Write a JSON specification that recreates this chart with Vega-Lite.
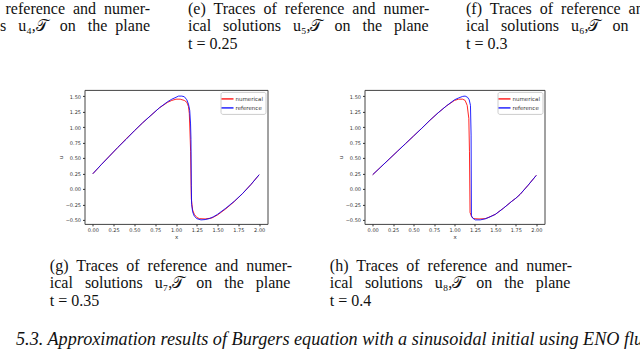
{
  "$schema": "https://vega.github.io/schema/vega-lite/v6.json",
  "padding": 0,
  "background": "white",
  "spacing": 36.9,
  "title": {"text": "5.3. Approximation results of Burgers equation with a sinusoidal initial using ENO flux", "orient": "bottom", "anchor": "start", "frame": "bounds", "fontStyle": "italic", "fontSize": 18.2, "offset": 22.1, "dx": 16},
  "datasets": {
    "t035": [
      {"series": "numerical", "x": 0.0, "u": 0.245},
      {"series": "numerical", "x": 0.1, "u": 0.39},
      {"series": "numerical", "x": 0.2, "u": 0.53},
      {"series": "numerical", "x": 0.3, "u": 0.67},
      {"series": "numerical", "x": 0.4, "u": 0.81},
      {"series": "numerical", "x": 0.5, "u": 0.94},
      {"series": "numerical", "x": 0.6, "u": 1.07},
      {"series": "numerical", "x": 0.7, "u": 1.19},
      {"series": "numerical", "x": 0.8, "u": 1.31},
      {"series": "numerical", "x": 0.9, "u": 1.4},
      {"series": "numerical", "x": 0.95, "u": 1.43},
      {"series": "numerical", "x": 1.0, "u": 1.45},
      {"series": "numerical", "x": 1.05, "u": 1.45},
      {"series": "numerical", "x": 1.1, "u": 1.43},
      {"series": "numerical", "x": 1.13, "u": 1.4},
      {"series": "numerical", "x": 1.15, "u": 1.33},
      {"series": "numerical", "x": 1.16, "u": 1.22},
      {"series": "numerical", "x": 1.168, "u": 0.92},
      {"series": "numerical", "x": 1.176, "u": 0.6},
      {"series": "numerical", "x": 1.184, "u": -0.16},
      {"series": "numerical", "x": 1.2, "u": -0.34},
      {"series": "numerical", "x": 1.22, "u": -0.41},
      {"series": "numerical", "x": 1.25, "u": -0.46},
      {"series": "numerical", "x": 1.28, "u": -0.48},
      {"series": "numerical", "x": 1.35, "u": -0.485},
      {"series": "numerical", "x": 1.43, "u": -0.47},
      {"series": "numerical", "x": 1.5, "u": -0.42},
      {"series": "numerical", "x": 1.6, "u": -0.32},
      {"series": "numerical", "x": 1.7, "u": -0.205},
      {"series": "numerical", "x": 1.8, "u": -0.075},
      {"series": "numerical", "x": 1.9, "u": 0.07},
      {"series": "numerical", "x": 2.0, "u": 0.23},
      {"series": "reference", "x": 0.0, "u": 0.245},
      {"series": "reference", "x": 0.1, "u": 0.39},
      {"series": "reference", "x": 0.2, "u": 0.53},
      {"series": "reference", "x": 0.3, "u": 0.67},
      {"series": "reference", "x": 0.4, "u": 0.8},
      {"series": "reference", "x": 0.5, "u": 0.94},
      {"series": "reference", "x": 0.6, "u": 1.07},
      {"series": "reference", "x": 0.7, "u": 1.19},
      {"series": "reference", "x": 0.8, "u": 1.31},
      {"series": "reference", "x": 0.9, "u": 1.41},
      {"series": "reference", "x": 0.95, "u": 1.45},
      {"series": "reference", "x": 1.0, "u": 1.48},
      {"series": "reference", "x": 1.03, "u": 1.5},
      {"series": "reference", "x": 1.07, "u": 1.5},
      {"series": "reference", "x": 1.1, "u": 1.49},
      {"series": "reference", "x": 1.13, "u": 1.44},
      {"series": "reference", "x": 1.15, "u": 1.37},
      {"series": "reference", "x": 1.165, "u": 1.27},
      {"series": "reference", "x": 1.175, "u": 1.05},
      {"series": "reference", "x": 1.18, "u": 0.8},
      {"series": "reference", "x": 1.184, "u": 0.05},
      {"series": "reference", "x": 1.188, "u": -0.25},
      {"series": "reference", "x": 1.2, "u": -0.37},
      {"series": "reference", "x": 1.22, "u": -0.44},
      {"series": "reference", "x": 1.25, "u": -0.48},
      {"series": "reference", "x": 1.3, "u": -0.5},
      {"series": "reference", "x": 1.35, "u": -0.495},
      {"series": "reference", "x": 1.4, "u": -0.48},
      {"series": "reference", "x": 1.45, "u": -0.45},
      {"series": "reference", "x": 1.5, "u": -0.41},
      {"series": "reference", "x": 1.6, "u": -0.31},
      {"series": "reference", "x": 1.7, "u": -0.2},
      {"series": "reference", "x": 1.8, "u": -0.075},
      {"series": "reference", "x": 1.9, "u": 0.07},
      {"series": "reference", "x": 2.0, "u": 0.23}
    ],
    "t040": [
      {"series": "numerical", "x": 0.0, "u": 0.23},
      {"series": "numerical", "x": 0.1, "u": 0.355},
      {"series": "numerical", "x": 0.2, "u": 0.48},
      {"series": "numerical", "x": 0.3, "u": 0.605},
      {"series": "numerical", "x": 0.4, "u": 0.73},
      {"series": "numerical", "x": 0.5, "u": 0.855},
      {"series": "numerical", "x": 0.6, "u": 0.98},
      {"series": "numerical", "x": 0.7, "u": 1.11},
      {"series": "numerical", "x": 0.8, "u": 1.23},
      {"series": "numerical", "x": 0.9, "u": 1.34},
      {"series": "numerical", "x": 1.0, "u": 1.43},
      {"series": "numerical", "x": 1.05, "u": 1.45},
      {"series": "numerical", "x": 1.1, "u": 1.45},
      {"series": "numerical", "x": 1.13, "u": 1.43},
      {"series": "numerical", "x": 1.155, "u": 1.35},
      {"series": "numerical", "x": 1.175, "u": 1.14},
      {"series": "numerical", "x": 1.183, "u": 0.6},
      {"series": "numerical", "x": 1.19, "u": -0.38},
      {"series": "numerical", "x": 1.21, "u": -0.45},
      {"series": "numerical", "x": 1.235, "u": -0.48},
      {"series": "numerical", "x": 1.3, "u": -0.485},
      {"series": "numerical", "x": 1.38, "u": -0.48},
      {"series": "numerical", "x": 1.45, "u": -0.44},
      {"series": "numerical", "x": 1.5, "u": -0.41},
      {"series": "numerical", "x": 1.6, "u": -0.31},
      {"series": "numerical", "x": 1.7, "u": -0.2},
      {"series": "numerical", "x": 1.75, "u": -0.15},
      {"series": "numerical", "x": 1.8, "u": -0.09},
      {"series": "numerical", "x": 1.9, "u": 0.06},
      {"series": "numerical", "x": 2.0, "u": 0.22},
      {"series": "reference", "x": 0.0, "u": 0.23},
      {"series": "reference", "x": 0.1, "u": 0.355},
      {"series": "reference", "x": 0.2, "u": 0.48},
      {"series": "reference", "x": 0.3, "u": 0.605},
      {"series": "reference", "x": 0.4, "u": 0.73},
      {"series": "reference", "x": 0.5, "u": 0.855},
      {"series": "reference", "x": 0.6, "u": 0.98},
      {"series": "reference", "x": 0.7, "u": 1.11},
      {"series": "reference", "x": 0.8, "u": 1.23},
      {"series": "reference", "x": 0.9, "u": 1.34},
      {"series": "reference", "x": 1.0, "u": 1.44},
      {"series": "reference", "x": 1.05, "u": 1.47},
      {"series": "reference", "x": 1.1, "u": 1.495},
      {"series": "reference", "x": 1.13, "u": 1.5},
      {"series": "reference", "x": 1.16, "u": 1.48},
      {"series": "reference", "x": 1.18, "u": 1.44},
      {"series": "reference", "x": 1.195, "u": 1.35},
      {"series": "reference", "x": 1.203, "u": 0.87},
      {"series": "reference", "x": 1.207, "u": -0.43},
      {"series": "reference", "x": 1.22, "u": -0.47},
      {"series": "reference", "x": 1.255, "u": -0.5},
      {"series": "reference", "x": 1.315, "u": -0.5},
      {"series": "reference", "x": 1.37, "u": -0.485},
      {"series": "reference", "x": 1.42, "u": -0.46},
      {"series": "reference", "x": 1.5, "u": -0.41},
      {"series": "reference", "x": 1.6, "u": -0.31},
      {"series": "reference", "x": 1.7, "u": -0.2},
      {"series": "reference", "x": 1.75, "u": -0.15},
      {"series": "reference", "x": 1.8, "u": -0.09},
      {"series": "reference", "x": 1.9, "u": 0.06},
      {"series": "reference", "x": 2.0, "u": 0.22}
    ]
  },
  "config": {
    "view": {"stroke": null},
    "font": "Liberation Serif",
    "title": {
      "font": "Liberation Serif",
      "fontSize": 16,
      "fontWeight": "normal",
      "color": "#111111",
      "lineHeight": 17.5,
      "orient": "bottom",
      "anchor": "start",
      "frame": "group",
      "baseline": "top"
    },
    "axis": {
      "labelFont": "DejaVu Sans",
      "labelFontSize": 5,
      "labelColor": "#333333",
      "tickSize": 2,
      "tickColor": "#333333",
      "domain": false,
      "grid": false,
      "titleFont": "DejaVu Sans",
      "titleFontSize": 5.5,
      "titleFontWeight": "normal",
      "titleColor": "#333333",
      "labelPadding": 2,
      "titlePadding": 2
    },
    "legend": {
      "orient": "top-right",
      "offset": 2,
      "labelFont": "DejaVu Sans",
      "labelFontSize": 5.5,
      "labelColor": "#333333",
      "labelOffset": 3,
      "symbolType": "M-1.5,0H1.5",
      "symbolStrokeWidth": 1.5,
      "symbolSize": 64,
      "strokeColor": "#cccccc",
      "fillColor": "white",
      "padding": 2,
      "rowPadding": 0,
      "cornerRadius": 2
    }
  },
  "vconcat": [
    {
      "bounds": "flush",
      "spacing": 38,
      "hconcat": [
        {
          "width": 145,
          "height": 1,
          "data": {"values": [{}]},
          "mark": {"type": "text", "text": "", "fontSize": 0, "baseline": "top", "y": 0},
          "encoding": {},
          "title": {"text": ["reference\u00a0 and\u00a0 numer-", "s\u00a0\u00a0 u₄,𝒯\u00a0\u00a0 on\u00a0\u00a0 the\u00a0 plane"], "anchor": "end", "offset": -1.5}
        },
        {
          "width": 240,
          "height": 1,
          "data": {"values": [{}]},
          "mark": {"type": "text", "text": "", "fontSize": 0, "baseline": "top", "y": 0},
          "encoding": {},
          "title": {"text": ["(e)\u00a0 Traces\u00a0 of\u00a0 reference\u00a0 and\u00a0 numer-", "ical\u00a0\u00a0 solutions\u00a0\u00a0 u₅,𝒯\u00a0\u00a0 on\u00a0\u00a0 the\u00a0\u00a0 plane", "t = 0.25"], "offset": -1.5}
        },
        {
          "width": 180,
          "height": 1,
          "data": {"values": [{}]},
          "mark": {"type": "text", "text": "", "fontSize": 0, "baseline": "top", "y": 0},
          "encoding": {},
          "title": {"text": ["(f)\u00a0 Traces\u00a0 of\u00a0 reference\u00a0 and\u00a0 numer-", "ical\u00a0\u00a0 solutions\u00a0\u00a0 u₆,𝒯\u00a0\u00a0 on\u00a0\u00a0 the\u00a0\u00a0 plane", "t = 0.3"], "offset": -1.5}
        }
      ]
    },
    {
      "spacing": 42.5,
      "hconcat": [
        {
          "width": 1,
          "height": 134,
          "data": {"values": [{}]},
          "mark": {"type": "text", "text": "", "fontSize": 0, "baseline": "top", "y": 0},
          "encoding": {}
        },
        {
          "bounds": "flush",
          "spacing": 97,
          "resolve": {"legend": {"color": "independent"}},
          "hconcat": [
            {
              "width": 183,
              "height": 134,
              "view": {"stroke": "#444444", "strokeWidth": 1},
              "data": {"name": "t035"},
              "mark": {"type": "line", "strokeWidth": 1, "opacity": 0.85},
              "encoding": {
                "x": {"field": "x", "type": "quantitative", "scale": {"domain": [-0.1, 2.1], "nice": false, "zero": false}, "axis": {"values": [0, 0.25, 0.5, 0.75, 1, 1.25, 1.5, 1.75, 2], "format": ".2f", "title": "x"}},
                "y": {"field": "u", "type": "quantitative", "scale": {"domain": [-0.565, 1.6], "nice": false, "zero": false}, "axis": {"values": [-0.5, -0.25, 0, 0.25, 0.5, 0.75, 1, 1.25, 1.5], "format": ".2f", "title": "u"}},
                "color": {"field": "series", "type": "nominal", "scale": {"domain": ["numerical", "reference"], "range": ["#ff0000", "#0000ff"]}, "legend": {"title": null}}
              },
              "title": {"text": ["(g)\u00a0 Traces\u00a0 of\u00a0 reference\u00a0 and\u00a0 numer-", "ical\u00a0\u00a0 solutions\u00a0\u00a0 u₇,𝒯\u00a0\u00a0 on\u00a0\u00a0 the\u00a0\u00a0 plane", "t = 0.35"], "offset": 17.3, "dx": -34.7}
            },
            {
              "width": 180,
              "height": 134,
              "view": {"stroke": "#444444", "strokeWidth": 1},
              "data": {"name": "t040"},
              "mark": {"type": "line", "strokeWidth": 1, "opacity": 0.85},
              "encoding": {
                "x": {"field": "x", "type": "quantitative", "scale": {"domain": [-0.1, 2.1], "nice": false, "zero": false}, "axis": {"values": [0, 0.25, 0.5, 0.75, 1, 1.25, 1.5, 1.75, 2], "format": ".2f", "title": "x"}},
                "y": {"field": "u", "type": "quantitative", "scale": {"domain": [-0.565, 1.6], "nice": false, "zero": false}, "axis": {"values": [-0.5, -0.25, 0, 0.25, 0.5, 0.75, 1, 1.25, 1.5], "format": ".2f", "title": "u"}},
                "color": {"field": "series", "type": "nominal", "scale": {"domain": ["numerical", "reference"], "range": ["#ff0000", "#0000ff"]}, "legend": {"title": null}}
              },
              "title": {"text": ["(h)\u00a0 Traces\u00a0 of\u00a0 reference\u00a0 and\u00a0 numer-", "ical\u00a0\u00a0 solutions\u00a0\u00a0 u₈,𝒯\u00a0\u00a0 on\u00a0\u00a0 the\u00a0\u00a0 plane", "t = 0.4"], "offset": 17.3, "dx": -34.7}
            }
          ]
        }
      ]
    }
  ]
}
